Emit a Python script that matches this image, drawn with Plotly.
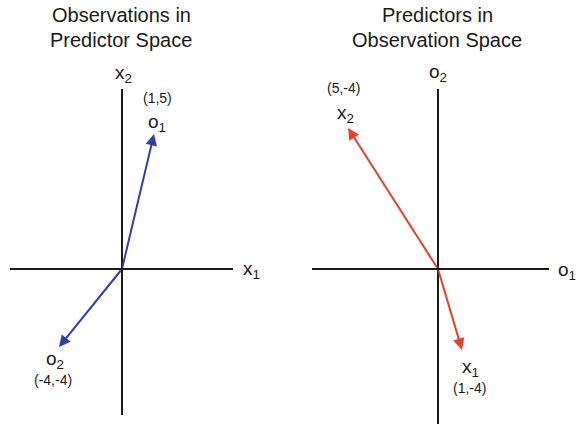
import plotly.graph_objects as go

# drawn vectors (1 unit ~ 20 px in the sketch)
obs_names = ["o<sub>1</sub>", "o<sub>2</sub>"]
obs_coords = ["(1,5)", "(-4,-4)"]
obs_x = [1.6, -3.15]
obs_y = [6.75, -3.9]

pred_names = ["x<sub>1</sub>", "x<sub>2</sub>"]
pred_coords = ["(1,-4)", "(5,-4)"]
pred_x = [1.2, -4.5]
pred_y = [-4.05, 7.05]

# axis extents per panel
left_xext = [-5.6, 5.55]
left_yext = [-7.3, 9.0]
right_xext = [-6.3, 5.55]
right_yext = [-7.8, 9.0]

BLUE = "#3340a3"
RED = "#e8402c"
INK = "#1a1a1a"
FONT = "Liberation Sans, Arial, sans-serif"

fig = go.Figure()

# axis lines
for xr, yr, xa, ya in [(left_xext, left_yext, "x", "y"), (right_xext, right_yext, "x2", "y2")]:
    fig.add_trace(go.Scatter(x=xr, y=[0, 0], mode="lines", line=dict(color=INK, width=2),
                             xaxis=xa, yaxis=ya, hoverinfo="skip"))
    fig.add_trace(go.Scatter(x=[0, 0], y=yr, mode="lines", line=dict(color=INK, width=2),
                             xaxis=xa, yaxis=ya, hoverinfo="skip"))

ann = []


def arrow(x, y, xref, yref, color):
    return dict(x=x, y=y, ax=0, ay=0, xref=xref, yref=yref, axref=xref, ayref=yref,
                text="", showarrow=True, arrowhead=2, arrowsize=1.15, arrowwidth=2,
                arrowcolor=color, standoff=0)


def label(text, x, y, xref, yref, xs, ys, size):
    return dict(x=x, y=y, xref=xref, yref=yref, text=text, showarrow=False,
                xshift=xs, yshift=ys, font=dict(size=size, color=INK, family=FONT))


# left panel
for i in range(2):
    ann.append(arrow(obs_x[i], obs_y[i], "x", "y", BLUE))
ann.append(label(obs_names[0], obs_x[0], obs_y[0], "x", "y", 3, 11, 19))
ann.append(label(obs_coords[0], obs_x[0], obs_y[0], "x", "y", 3, 36, 14))
ann.append(label(obs_names[1], obs_x[1], obs_y[1], "x", "y", -4, -13, 19))
ann.append(label(obs_coords[1], obs_x[1], obs_y[1], "x", "y", -6, -33, 14))
ann.append(label("x<sub>2</sub>", 0, left_yext[1], "x", "y", 1, 15, 19))
ann.append(label("x<sub>1</sub>", left_xext[1], 0, "x", "y", 18, -1, 19))

# right panel
for i in range(2):
    ann.append(arrow(pred_x[i], pred_y[i], "x2", "y2", RED))
ann.append(label(pred_names[0], pred_x[0], pred_y[0], "x2", "y2", 8, -18, 19))
ann.append(label(pred_coords[0], pred_x[0], pred_y[0], "x2", "y2", 7, -38, 14))
ann.append(label(pred_names[1], pred_x[1], pred_y[1], "x2", "y2", -3, 14, 19))
ann.append(label(pred_coords[1], pred_x[1], pred_y[1], "x2", "y2", -5, 40, 14))
ann.append(label("o<sub>2</sub>", 0, right_yext[1], "x2", "y2", 0, 16, 19))
ann.append(label("o<sub>1</sub>", right_xext[1], 0, "x2", "y2", 18, -2, 19))

# titles
for txt, xc, yc in [("Observations in", 121, 15), ("Predictor Space", 121, 40),
                    ("Predictors in", 437, 15), ("Observation Space", 437, 40)]:
    ann.append(dict(x=xc / 578, y=1 - yc / 424, xref="paper", yref="paper", text=txt,
                    showarrow=False, xanchor="center", yanchor="middle",
                    font=dict(size=20, color=INK, family=FONT)))

hidden = dict(visible=False, showgrid=False, zeroline=False, fixedrange=True)
fig.update_layout(
    width=578, height=424,
    margin=dict(l=0, r=0, t=0, b=0),
    paper_bgcolor="white", plot_bgcolor="white",
    showlegend=False,
    xaxis=dict(domain=[0, 0.5], range=[-6.1, 8.35], **hidden),
    yaxis=dict(domain=[0, 1], range=[-7.75, 13.45], **hidden),
    xaxis2=dict(domain=[0.5, 1], range=[-7.45, 7.0], anchor="y2", **hidden),
    yaxis2=dict(domain=[0, 1], range=[-7.75, 13.45], anchor="x2", **hidden),
    annotations=ann,
)

# drop the default body margin so the figure sits at the window's corner
fig.write_html("out.html", config={"displayModeBar": False},
               post_script="document.body.style.margin='0';")
